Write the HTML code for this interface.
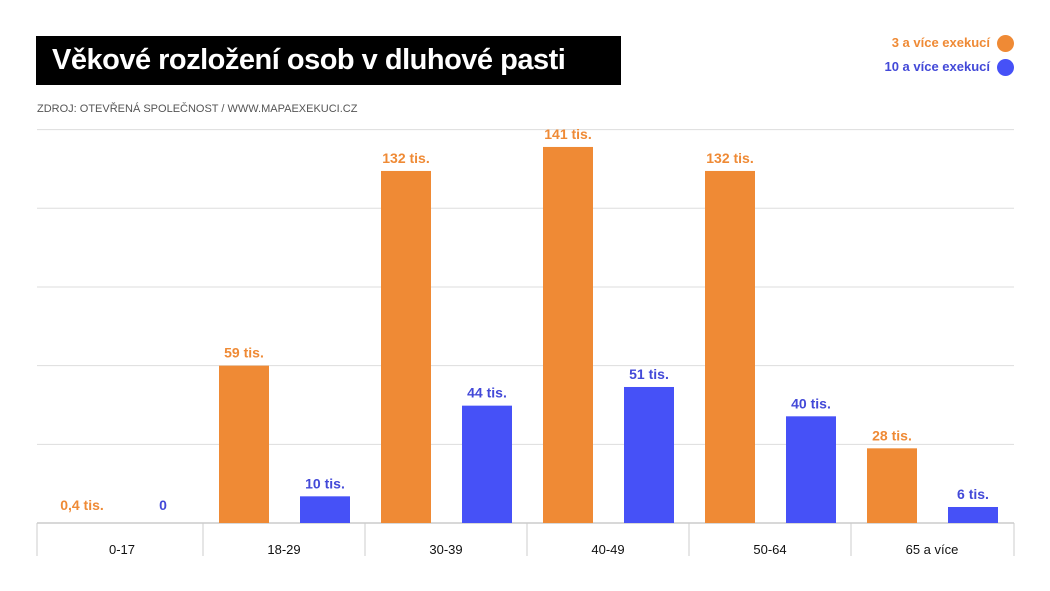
<!DOCTYPE html>
<html><head><meta charset="utf-8"><style>
body{margin:0;background:#fff;font-family:"Liberation Sans",sans-serif;}
#wrap{position:relative;width:1050px;height:591px;overflow:hidden;}
#title{position:absolute;left:36px;top:36px;width:585px;height:49px;background:#000;color:#fff;font-weight:bold;font-size:29px;line-height:49px;padding-left:16px;box-sizing:border-box;letter-spacing:-0.5px;}
#src{position:absolute;left:37px;top:103px;font-size:11px;color:#555;}
.leg{position:absolute;right:60px;font-weight:bold;font-size:13px;}
.dot{position:absolute;left:997px;width:17px;height:17px;border-radius:50%;}
</style></head><body>
<div id="wrap">
<div id="title">Věkové rozložení osob v dluhové pasti</div>
<div id="src">ZDROJ: OTEVŘENÁ SPOLEČNOST / WWW.MAPAEXEKUCI.CZ</div>
<div class="leg" style="top:35px;color:#ef8a35">3 a více exekucí</div>
<div class="dot" style="top:35px;background:#ef8a35"></div>
<div class="leg" style="top:59px;color:#4349d8">10 a více exekucí</div>
<div class="dot" style="top:59px;background:#4651f7"></div>
<svg id="svg" width="1050" height="591" style="position:absolute;left:0;top:0"></svg>
</div>
<script>
const categories=["0-17","18-29","30-39","40-49","50-64","65 a více"];
const seriesA=[0.4,59,132,141,132,28];
const seriesB=[0,10,44,51,40,6];
const labelsA=["0,4 tis.","59 tis.","132 tis.","141 tis.","132 tis.","28 tis."];
const labelsB=["0","10 tis.","44 tis.","51 tis.","40 tis.","6 tis."];
const gridTicks=[29.5,59,88.5,118,147.5];
const svg=document.getElementById('svg');const NS="http://www.w3.org/2000/svg";
const base=523,ppu=2.667,x0=41,gw=162;
const y=v=>base-v*ppu;const gx=i=>x0+i*gw;
function mk(t,a,p){const e=document.createElementNS(NS,t);for(const k in a)e.setAttribute(k,a[k]);(p||svg).appendChild(e);return e;}
gridTicks.forEach((t,i)=>{const l=mk('line',{x1:37,x2:1014,y1:y(t),y2:y(t),stroke:'#ddd','stroke-width':1});

});
const bl=mk('line',{x1:37,x2:1014,y1:base,y2:base,stroke:'#ccc','stroke-width':1.5});


for(let i=0;i<=categories.length;i++){const xx=i==0?37:(i==categories.length?1014:gx(i));
const s=mk('line',{x1:xx,x2:xx,y1:base,y2:556,stroke:'#ccc','stroke-width':1});

}
categories.forEach((c,i)=>{
const t=mk('text',{x:gx(i)+gw/2,y:554,'text-anchor':'middle','font-size':13,fill:'#111'});t.textContent=c;


[[seriesA,labelsA,16,'#ef8a35','#ef8a35','bar-3-plus'],[seriesB,labelsB,97,'#4651f7','#4349d8','bar-10-plus']].forEach(([s,l,off,col,tc,nm])=>{
const v=s[i];const bx=gx(i)+off;
if(v>=1){const r=mk('rect',{x:bx,y:y(v),width:50,height:base-y(v),fill:col});

}
const ly=v>=1?y(v)-8:base-13;
const lt=mk('text',{x:bx+25,y:ly,'text-anchor':'middle','font-size':14,'font-weight':'bold',fill:tc});lt.textContent=l[i];

});
});
</script>
</body></html>
